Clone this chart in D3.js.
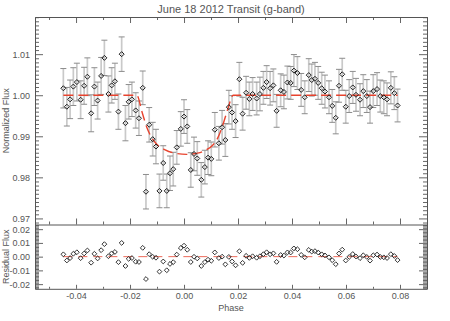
<!DOCTYPE html>
<html>
<head>
<meta charset="utf-8">
<script src="https://cdn.jsdelivr.net/npm/d3@7"></script>
<style>
body { margin: 0; background: #fff; }
svg text { font-family: "Liberation Sans", Arial, sans-serif; fill: #555; }
</style>
</head>
<body>
<svg id="chart" width="450" height="321"></svg>
<script>
/*** DATA ***/
const phase = [
-0.0447,-0.0434,-0.0422,-0.0410,-0.0397,-0.0383,-0.0370,-0.0358,-0.0344,-0.0332,
-0.0320,-0.0307,-0.0295,-0.0280,-0.0268,-0.0256,-0.0243,-0.0231,-0.0217,-0.0205,
-0.0193,-0.0179,-0.0167,-0.0153,-0.0141,-0.0129,-0.0116,-0.0104,-0.0091,-0.0077,
-0.0064,-0.0052,-0.0040,-0.0027,-0.0012,0.0000,0.0012,0.0025,0.0037,0.0049,
0.0064,0.0077,0.0089,0.0101,0.0114,0.0129,0.0141,0.0153,0.0166,0.0178,
0.0191,0.0205,0.0217,0.0230,0.0242,0.0254,0.0269,0.0281,0.0294,0.0306,
0.0319,0.0331,0.0343,0.0358,0.0370,0.0383,0.0395,0.0407,0.0420,0.0434,
0.0447,0.0462,0.0473,0.0485,0.0497,0.0510,0.0522,0.0537,0.0549,0.0562,
0.0574,0.0586,0.0599,0.0612,0.0625,0.0637,0.0652,0.0664,0.0677,0.0689,
0.0701,0.0715,0.0727,0.0740,0.0752,0.0766,0.0779,0.0791];

const flux = [
1.0017,0.9972,0.9990,1.0021,1.0032,0.9989,1.0023,1.0045,0.9956,1.0021,
0.9987,1.0047,1.0091,1.0003,1.0024,1.0034,0.9960,1.0100,0.9932,0.9984,
0.9990,0.9963,0.9944,1.0018,0.9765,0.9928,0.9893,0.9875,0.9767,0.9835,
0.9767,0.9810,0.9820,0.9873,0.9918,0.9948,0.9924,0.9818,0.9857,0.9846,
0.9794,0.9825,0.9848,0.9845,0.9916,0.9883,0.9922,0.9891,0.9971,0.9958,
0.9937,1.0039,0.9955,1.0006,0.9991,1.0003,0.9992,1.0003,1.0018,1.0032,
1.0017,1.0024,0.9962,1.0012,1.0008,1.0031,1.0030,1.0060,1.0054,1.0013,
0.9995,1.0049,1.0037,1.0040,1.0030,1.0017,1.0009,0.9995,0.9974,0.9945,
1.0023,1.0051,0.9972,0.9998,1.0019,1.0001,0.9989,1.0010,0.9998,0.9971,
1.0010,1.0015,0.9998,0.9995,0.9990,1.0018,1.0005,0.9975];

const fluxErr = [
0.0048,0.0047,0.0047,0.0046,0.0046,0.0046,0.0045,0.0046,0.0045,0.0046,
0.0045,0.0045,0.0043,0.0044,0.0043,0.0044,0.0043,0.0042,0.0043,0.0042,
0.0042,0.0043,0.0042,0.0041,0.0042,0.0042,0.0041,0.0042,0.0041,0.0042,
0.0041,0.0042,0.0041,0.0041,0.0042,0.0041,0.0041,0.0042,0.0041,0.0041,
0.0042,0.0041,0.0041,0.0041,0.0042,0.0041,0.0041,0.0040,0.0041,0.0041,
0.0040,0.0041,0.0040,0.0040,0.0041,0.0040,0.0040,0.0041,0.0040,0.0040,
0.0041,0.0040,0.0040,0.0040,0.0041,0.0040,0.0040,0.0039,0.0040,0.0040,
0.0040,0.0040,0.0039,0.0040,0.0040,0.0039,0.0040,0.0040,0.0040,0.0039,
0.0040,0.0039,0.0040,0.0040,0.0039,0.0040,0.0039,0.0040,0.0040,0.0039,
0.0040,0.0040,0.0039,0.0040,0.0040,0.0039,0.0040,0.0040];

const residual = [
0.0017,-0.0028,-0.0010,0.0021,0.0032,-0.0011,0.0023,0.0045,-0.0044,0.0021,
-0.0013,0.0047,0.0091,0.0003,0.0024,0.0034,-0.0040,0.0100,-0.0068,-0.0016,
-0.0010,-0.0037,-0.0039,0.0064,-0.0163,0.0018,-0.0001,-0.0008,-0.0109,-0.0035,
-0.0099,-0.0053,-0.0040,0.0015,0.0063,0.0080,0.0050,-0.0039,-0.0001,-0.0013,
-0.0068,-0.0040,-0.0022,-0.0030,0.0031,-0.0010,0.0000,-0.0056,-0.0002,-0.0035,
-0.0063,0.0039,-0.0045,0.0006,-0.0009,0.0003,-0.0008,0.0003,0.0018,0.0032,
0.0017,0.0024,-0.0038,0.0012,0.0008,0.0031,0.0030,0.0060,0.0054,0.0013,
-0.0005,0.0049,0.0037,0.0040,0.0030,0.0017,0.0009,-0.0005,-0.0026,-0.0055,
0.0023,0.0051,-0.0028,-0.0002,0.0019,0.0001,-0.0011,0.0010,-0.0002,-0.0029,
0.0010,0.0015,-0.0002,-0.0005,-0.0010,0.0018,0.0005,-0.0025];

// transit model
const modelPhase = [-0.0447,-0.0175,-0.0155,-0.0138,-0.0120,-0.0100,-0.0070,-0.0035,
  0.0010,0.0050,0.0080,0.0107,0.0125,0.0142,0.0162,0.0182,0.0791];
const modelFlux = [1.0000,1.0000,0.9958,0.9922,0.9897,0.9880,0.9867,0.9859,
  0.9856,0.9859,0.9866,0.9879,0.9896,0.9924,0.9966,1.0000,1.0000];

const resLinePhase = [-0.0447, 0.0791];
const resLineValue = [0, 0];

// ticks
const xTicks = [-0.04,-0.02,0.00,0.02,0.04,0.06,0.08];
const xTickLabels = ["-0.04","-0.02","0.00","0.02","0.04","0.06","0.08"];
const xMinor = [-0.05,-0.03,-0.01,0.01,0.03,0.05,0.07,0.09];
const yTicks = [0.97,0.98,0.99,1.00,1.01];
const yTickLabels = ["0.97","0.98","0.99","1.00","1.01"];
const resTicks = [-0.02,-0.01,0.00,0.01,0.02];
const resTickLabels = ["-0.02","-0.01","0.00","0.01","0.02"];

/*** LAYOUT ***/
const plotL = 35, plotR = 427, plotT = 17, plotMid = 224.5, plotB = 288.8;
const axisCol = "#555";
const labelFont = 9;

const x = d3.scaleLinear().domain([-0.0552, 0.0900]).range([plotL, plotR]);
const y = d3.scaleLinear().domain([0.96852, 1.01905]).range([plotMid, plotT]);
const yr = d3.scaleLinear().domain([-0.0234, 0.0234]).range([plotB, plotMid]);

const yMinor = d3.range(0.969, 1.0195, 0.001).filter(v => !yTicks.some(t => Math.abs(t - v) < 1e-6));
const resMinor = d3.range(-0.023, 0.0235, 0.001).filter(v => !resTicks.some(t => Math.abs(t - v) < 1e-6));

const svg = d3.select("#chart");

function addAxis(gen, tx, ty, keepDomain) {
  const g = svg.append("g")
    .attr("transform", "translate(" + tx + "," + ty + ")")
    .call(gen);
  g.attr("font-family", null).attr("font-size", null);
  if (keepDomain) {
    g.select(".domain").attr("stroke", axisCol).attr("stroke-width", 1);
  } else {
    g.select(".domain").remove();
  }
  g.selectAll(".tick line").attr("stroke", axisCol).attr("stroke-width", 0.9);
  g.selectAll(".tick text").attr("fill", "#555").style("font-size", labelFont + "px");
  return g;
}

/*** MAIN PANEL AXES ***/
addAxis(d3.axisLeft(y).tickValues(yTicks).tickSize(-8).tickSizeOuter(0).tickPadding(5)
  .tickFormat((d, i) => yTickLabels[i]), plotL, 0, true);
addAxis(d3.axisLeft(y).tickValues(yMinor).tickSize(-4).tickFormat(""), plotL, 0, false);
addAxis(d3.axisRight(y).tickValues(yTicks).tickSize(-8).tickSizeOuter(0).tickFormat(""), plotR, 0, true);
addAxis(d3.axisRight(y).tickValues(yMinor).tickSize(-4).tickFormat(""), plotR, 0, false);
addAxis(d3.axisTop(x).tickValues(xTicks).tickSize(-6).tickSizeOuter(0).tickFormat(""), 0, plotT, true);
addAxis(d3.axisTop(x).tickValues(xMinor).tickSize(-3).tickFormat(""), 0, plotT, false);
addAxis(d3.axisBottom(x).tickValues(xTicks).tickSize(-6).tickSizeOuter(0).tickFormat(""), 0, plotMid, true);
addAxis(d3.axisBottom(x).tickValues(xMinor).tickSize(-3).tickFormat(""), 0, plotMid, false);

/*** RESIDUAL PANEL AXES ***/
addAxis(d3.axisLeft(yr).tickValues(resTicks).tickSize(-8).tickSizeOuter(0).tickPadding(5)
  .tickFormat((d, i) => resTickLabels[i]), plotL, 0, true);
addAxis(d3.axisLeft(yr).tickValues(resMinor).tickSize(-4).tickFormat(""), plotL, 0, false);
addAxis(d3.axisRight(yr).tickValues(resTicks).tickSize(-8).tickSizeOuter(0).tickFormat(""), plotR, 0, true);
addAxis(d3.axisRight(yr).tickValues(resMinor).tickSize(-4).tickFormat(""), plotR, 0, false);
addAxis(d3.axisBottom(x).tickValues(xTicks).tickSize(-4).tickSizeOuter(0).tickPadding(4)
  .tickFormat((d, i) => xTickLabels[i]), 0, plotB, true);
addAxis(d3.axisBottom(x).tickValues(xMinor).tickSize(-2).tickFormat(""), 0, plotB, false);

/*** ERROR BARS ***/
const pts = phase.map((p, i) => ({p: p, f: flux[i], e: fluxErr[i], r: residual[i]}));

const bars = svg.append("g");
bars.selectAll("line.bar").data(pts).enter().append("line")
  .attr("class", "bar")
  .attr("x1", d => x(d.p)).attr("x2", d => x(d.p))
  .attr("y1", d => y(d.f - d.e)).attr("y2", d => y(d.f + d.e))
  .attr("stroke", "#c9c9c9").attr("stroke-width", 1.7);
[-1, 1].forEach(s => {
  bars.selectAll("line.cap" + (s + 1)).data(pts).enter().append("line")
    .attr("class", "cap" + (s + 1))
    .attr("x1", d => x(d.p) - 3).attr("x2", d => x(d.p) + 3)
    .attr("y1", d => y(d.f + s * d.e)).attr("y2", d => y(d.f + s * d.e))
    .attr("stroke", "#8c8c8c").attr("stroke-width", 1);
});

/*** MODEL LINES ***/
const modelPts = modelPhase.map((p, i) => [p, modelFlux[i]]);
svg.append("path")
  .datum(modelPts)
  .attr("d", d3.line().x(d => x(d[0])).y(d => y(d[1])).curve(d3.curveMonotoneX))
  .attr("fill", "none").attr("stroke", "#e8432e").attr("stroke-width", 1.4)
  .attr("stroke-dasharray", "10,5");

svg.append("path")
  .datum(resLinePhase.map((p, i) => [p, resLineValue[i]]))
  .attr("d", d3.line().x(d => x(d[0])).y(d => yr(d[1])))
  .attr("fill", "none").attr("stroke", "#ec6a5a").attr("stroke-width", 1)
  .attr("stroke-dasharray", "9,6");

/*** MARKERS ***/
const diamond = (cx, cy, r) => "M" + cx + "," + (cy - r) + "L" + (cx + r) + "," + cy +
  "L" + cx + "," + (cy + r) + "L" + (cx - r) + "," + cy + "Z";

svg.append("g").selectAll("path").data(pts).enter().append("path")
  .attr("d", d => diamond(x(d.p), y(d.f), 2.5))
  .attr("fill", "none").attr("stroke", "#1e1e1e").attr("stroke-width", 1);

svg.append("g").selectAll("path").data(pts).enter().append("path")
  .attr("d", d => diamond(x(d.p), yr(d.r), 2.4))
  .attr("fill", "none").attr("stroke", "#1e1e1e").attr("stroke-width", 0.9);

/*** TITLES ***/
svg.append("text")
  .attr("x", (plotL + plotR) / 2).attr("y", 12.5)
  .attr("text-anchor", "middle").style("font-size", "11px")
  .text("June 18 2012 Transit (g-band)");

svg.append("text")
  .attr("x", (plotL + plotR) / 2).attr("y", 311)
  .attr("text-anchor", "middle").style("font-size", labelFont + "px")
  .text("Phase");

svg.append("text")
  .attr("transform", "translate(9," + ((plotT + plotMid) / 2) + ") rotate(-90)")
  .attr("text-anchor", "middle").style("font-size", labelFont + "px")
  .text("Normalized Flux");

svg.append("text")
  .attr("transform", "translate(9," + ((plotMid + plotB) / 2) + ") rotate(-90)")
  .attr("text-anchor", "middle").style("font-size", labelFont + "px")
  .text("Residual Flux");
</script>
</body>
</html>
